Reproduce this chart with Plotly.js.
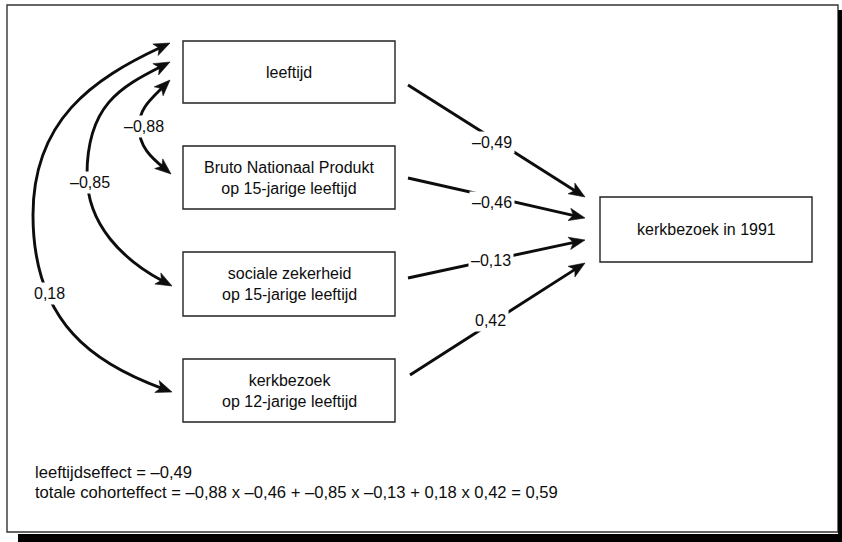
<!DOCTYPE html>
<html>
<head>
<meta charset="utf-8">
<script src="https://cdn.plot.ly/plotly-3.0.1.min.js"></script>
<style>html,body{margin:0;padding:0;background:#fff;}#chart{width:842px;height:542px;}</style>
</head>
<body>
<div id="chart"></div>
<script>
// ---- data ----
const predictorLabels = [
  'leeftijd',
  'Bruto Nationaal Produkt<br>op 15-jarige leeftijd',
  'sociale zekerheid<br>op 15-jarige leeftijd',
  'kerkbezoek<br>op 12-jarige leeftijd'
];
const outcomeLabel = 'kerkbezoek in 1991';
const pathCoefs = [-0.49, -0.46, -0.13, 0.42];      // effect of each predictor on outcome
const corrWithAge = [-0.88, -0.85, 0.18];           // correlation of leeftijd with predictors 2..4
const ageEffectLabel = 'leeftijdseffect';
const cohortEffectLabel = 'totale cohorteffect';

// ---- helpers ----
const fmt = v => (v < 0 ? '\u2013' : '') + Math.abs(v).toFixed(2).replace('.', ',');

// ---- layout geometry (pixel-like data units) ----
const INK = '#0d0d0d';
const FONT = 'Liberation Sans, Arial, Helvetica, sans-serif';
const boxX = [183, 395];
const boxY = [[41, 103], [146, 209], [252, 316], [359, 422]];
const outBox = {x: [600, 812], y: [197, 262]};
const arrowStarts = [[408, 85], [408, 178], [408, 278], [410, 375]];
const arrowTips = [[585, 197], [585, 218], [585, 240], [585, 263]];
const coefLabelPos = [[492, 142], [492, 202], [491, 260], [490, 320]];
const curves = [
  {top: [170, 80], topAng: 45, bot: [171, 174], botAng: 40, L: [139, 127], a: 18, b: 18, c: 20, d: 15, label: [144, 126]},
  {top: [170, 62], topAng: 27, bot: [172, 286], botAng: 28, L: [87, 175], a: 45, b: 70, c: 50, d: 45, label: [90, 182]},
  {top: [170, 43], topAng: 25, bot: [172, 392], botAng: 20, L: [33, 215], a: 75, b: 95, c: 110, d: 70, label: [49, 293]}
];
const HEAD_L = 16, HEAD_W = 6.3, HEAD_N = 4, BACK = 10, LW = 2.9;

const shapes = [];
const annotations = [];

function head(tip, dir) {
  const n = [-dir[1], dir[0]];
  const bx = tip[0] - HEAD_L * dir[0], by = tip[1] - HEAD_L * dir[1];
  const p1 = [bx + HEAD_W * n[0], by + HEAD_W * n[1]];
  const p2 = [tip[0] - (HEAD_L - HEAD_N) * dir[0], tip[1] - (HEAD_L - HEAD_N) * dir[1]];
  const p3 = [bx - HEAD_W * n[0], by - HEAD_W * n[1]];
  shapes.push({type: 'path', xref: 'x', yref: 'y',
    path: `M${tip[0]},${tip[1]} L${p1[0]},${p1[1]} L${p2[0]},${p2[1]} L${p3[0]},${p3[1]} Z`,
    fillcolor: INK, line: {width: 0.6, color: INK}});
}

// frame + shadow
shapes.push({type: 'rect', xref: 'x', yref: 'y', x0: 7, x1: 838, y0: 5, y1: 532, line: {color: '#333', width: 1.4}});
shapes.push({type: 'rect', xref: 'x', yref: 'y', x0: 838, x1: 842, y0: 10, y1: 542, fillcolor: '#000', line: {width: 0}});
shapes.push({type: 'rect', xref: 'x', yref: 'y', x0: 18, x1: 842, y0: 534, y1: 542, fillcolor: '#000', line: {width: 0}});

// predictor boxes
predictorLabels.forEach((lab, i) => {
  shapes.push({type: 'rect', xref: 'x', yref: 'y', x0: boxX[0], x1: boxX[1], y0: boxY[i][0], y1: boxY[i][1],
    line: {color: '#222', width: 1.4}});
  annotations.push({x: (boxX[0] + boxX[1]) / 2, y: (boxY[i][0] + boxY[i][1]) / 2, xref: 'x', yref: 'y',
    text: lab, showarrow: false, font: {family: FONT, size: 16, color: INK}});
});
// outcome box
shapes.push({type: 'rect', xref: 'x', yref: 'y', x0: outBox.x[0], x1: outBox.x[1], y0: outBox.y[0], y1: outBox.y[1],
  line: {color: '#222', width: 1.4}});
annotations.push({x: (outBox.x[0] + outBox.x[1]) / 2, y: (outBox.y[0] + outBox.y[1]) / 2, xref: 'x', yref: 'y',
  text: outcomeLabel, showarrow: false, font: {family: FONT, size: 16, color: INK}});

// straight path arrows
pathCoefs.forEach((c, i) => {
  const s = arrowStarts[i], t = arrowTips[i];
  const len = Math.hypot(t[0] - s[0], t[1] - s[1]);
  const dir = [(t[0] - s[0]) / len, (t[1] - s[1]) / len];
  const e = [t[0] - BACK * dir[0], t[1] - BACK * dir[1]];
  shapes.push({type: 'line', xref: 'x', yref: 'y', x0: s[0], y0: s[1], x1: e[0], y1: e[1], line: {color: INK, width: LW}});
  head(t, dir);
  annotations.push({x: coefLabelPos[i][0], y: coefLabelPos[i][1], xref: 'x', yref: 'y', text: fmt(c), showarrow: false,
    bgcolor: '#fff', borderpad: 2, font: {family: FONT, size: 16, color: INK}});
});

// curved correlation arrows
corrWithAge.forEach((r, i) => {
  const g = curves[i];
  const rt = g.topAng * Math.PI / 180, rb = g.botAng * Math.PI / 180;
  const dT = [Math.cos(rt), -Math.sin(rt)], dB = [Math.cos(rb), Math.sin(rb)];
  const bT = [g.top[0] - BACK * dT[0], g.top[1] - BACK * dT[1]];
  const bB = [g.bot[0] - BACK * dB[0], g.bot[1] - BACK * dB[1]];
  const c1 = [bT[0] - g.a * dT[0], bT[1] - g.a * dT[1]];
  const c2 = [g.L[0], g.L[1] - g.b];
  const c3 = [g.L[0], g.L[1] + g.c];
  const c4 = [bB[0] - g.d * dB[0], bB[1] - g.d * dB[1]];
  shapes.push({type: 'path', xref: 'x', yref: 'y',
    path: `M${bT[0]},${bT[1]} C${c1[0]},${c1[1]} ${c2[0]},${c2[1]} ${g.L[0]},${g.L[1]} C${c3[0]},${c3[1]} ${c4[0]},${c4[1]} ${bB[0]},${bB[1]}`,
    line: {color: INK, width: LW}});
  head(g.top, dT);
  head(g.bot, dB);
  annotations.push({x: g.label[0], y: g.label[1], xref: 'x', yref: 'y', text: fmt(r), showarrow: false,
    bgcolor: '#fff', borderpad: 2, font: {family: FONT, size: 16, color: INK}});
});

// footnote
const cohort = corrWithAge.reduce((s, r, i) => s + r * pathCoefs[i + 1], 0);
const terms = corrWithAge.map((r, i) => fmt(r) + ' x ' + fmt(pathCoefs[i + 1])).join(' + ');
annotations.push({x: 33, y: 472, xref: 'x', yref: 'y', xanchor: 'left', text: ageEffectLabel + ' = ' + fmt(pathCoefs[0]),
  showarrow: false, font: {family: FONT, size: 16.6, color: INK}});
annotations.push({x: 33, y: 492, xref: 'x', yref: 'y', xanchor: 'left', text: cohortEffectLabel + ' = ' + terms + ' = ' + fmt(cohort),
  showarrow: false, font: {family: FONT, size: 16.6, color: INK}});

Plotly.newPlot('chart', [], {
  width: 842, height: 542,
  margin: {l: 0, r: 0, t: 0, b: 0},
  paper_bgcolor: '#fff', plot_bgcolor: '#fff',
  showlegend: false,
  xaxis: {range: [0, 842], visible: false, fixedrange: true},
  yaxis: {range: [542, 0], visible: false, fixedrange: true},
  shapes: shapes,
  annotations: annotations
}, {staticPlot: true});
</script>
</body>
</html>
